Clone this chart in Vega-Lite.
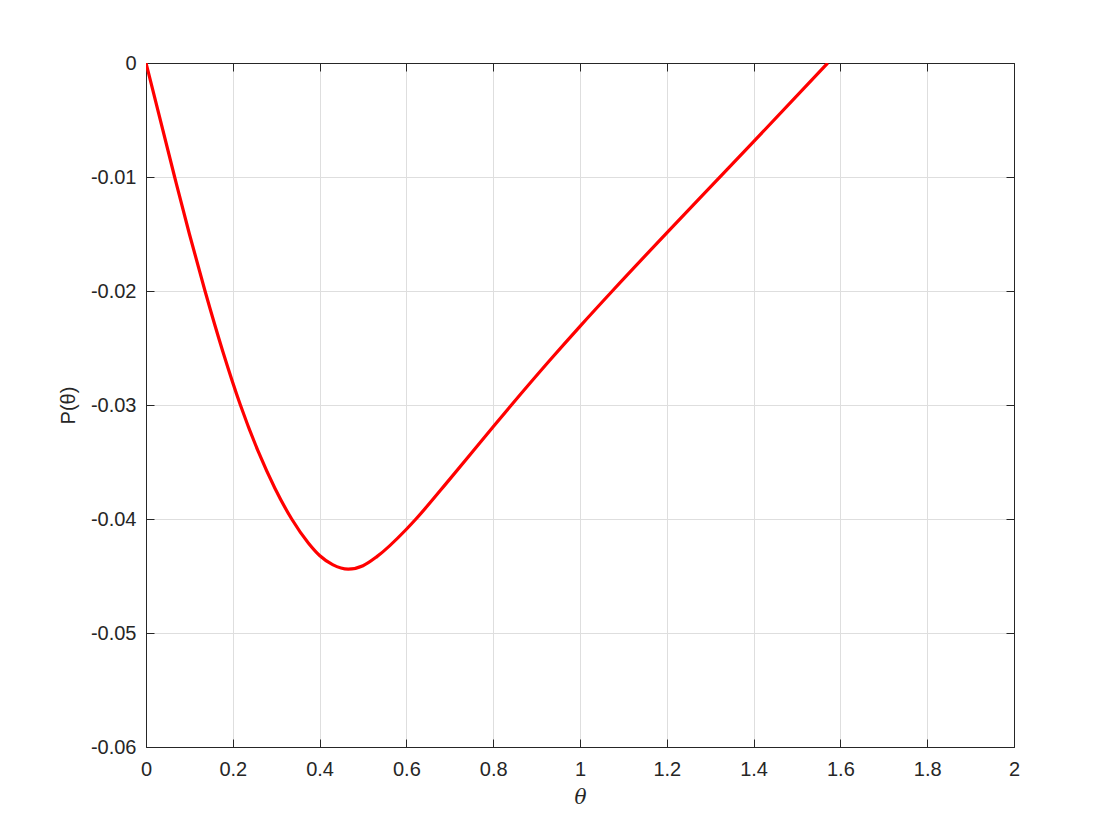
{
  "$schema": "https://vega.github.io/schema/vega-lite/v6.json",
  "width": 868,
  "height": 684,
  "autosize": {"type": "none"},
  "padding": {"left": 146, "top": 63, "right": 106, "bottom": 93},
  "background": "white",
  "config": {
    "view": {"stroke": "#262626", "strokeWidth": 1},
    "axis": {
      "domainColor": "#262626",
      "tickColor": "#262626",
      "labelColor": "#262626",
      "titleColor": "#262626",
      "labelFont": "Liberation Sans",
      "titleFont": "Liberation Sans",
      "labelFontSize": 20,
      "titleFontSize": 20,
      "titleFontWeight": "normal",
      "gridColor": "#dedede",
      "gridWidth": 1,
      "tickSize": -8,
      "tickWidth": 1
    }
  },
  "data": {
    "values": [
      {"theta": 0.0, "P": 0.0},
      {"theta": 0.066, "P": -0.01},
      {"theta": 0.1, "P": -0.015},
      {"theta": 0.136, "P": -0.02},
      {"theta": 0.177, "P": -0.0253},
      {"theta": 0.2175, "P": -0.03},
      {"theta": 0.2588, "P": -0.0341},
      {"theta": 0.297, "P": -0.0373},
      {"theta": 0.3357, "P": -0.04},
      {"theta": 0.374, "P": -0.0421},
      {"theta": 0.4, "P": -0.0432},
      {"theta": 0.43, "P": -0.0440},
      {"theta": 0.466, "P": -0.0444},
      {"theta": 0.5, "P": -0.0441},
      {"theta": 0.532, "P": -0.0433},
      {"theta": 0.6, "P": -0.0409},
      {"theta": 0.622, "P": -0.04},
      {"theta": 0.7, "P": -0.0365},
      {"theta": 0.8, "P": -0.0319},
      {"theta": 0.842, "P": -0.03},
      {"theta": 0.93, "P": -0.0261},
      {"theta": 1.0, "P": -0.0231},
      {"theta": 1.0745, "P": -0.02},
      {"theta": 1.2, "P": -0.0149},
      {"theta": 1.315, "P": -0.0103},
      {"theta": 1.4, "P": -0.0069},
      {"theta": 1.5708, "P": 0.0}
    ]
  },
  "layer": [
    {
      "mark": {"type": "line", "color": "#ff0000", "strokeWidth": 3.2, "interpolate": "monotone", "clip": true},
      "encoding": {
        "x": {
          "field": "theta", "type": "quantitative",
          "scale": {"domain": [0, 2], "nice": false, "zero": false},
          "axis": {
            "title": "θ", "titleFont": "DejaVu Serif", "titleFontStyle": "italic",
            "titlePadding": 8,
            "values": [0, 0.2, 0.4, 0.6, 0.8, 1, 1.2, 1.4, 1.6, 1.8, 2],
            "labelExpr": "format(datum.value, '~g')",
            "labelPadding": 20, "grid": true, "labelFlush": false
          }
        },
        "y": {
          "field": "P", "type": "quantitative",
          "scale": {"domain": [-0.06, 0], "nice": false, "zero": false},
          "axis": {
            "title": "P(θ)",
            "titlePadding": 12,
            "values": [-0.06, -0.05, -0.04, -0.03, -0.02, -0.01, 0],
            "labelExpr": "datum.value == 0 ? '0' : replace(format(datum.value, '.2f'), '\u2212', '-')",
            "labelPadding": 18, "grid": true, "labelFlush": false
          }
        }
      }
    },
    {
      "mark": {"type": "line", "opacity": 0},
      "encoding": {
        "x": {
          "field": "theta", "type": "quantitative",
          "scale": {"domain": [0, 2], "nice": false, "zero": false},
          "axis": {"orient": "top", "labels": false, "title": null, "grid": false,
            "values": [0, 0.2, 0.4, 0.6, 0.8, 1, 1.2, 1.4, 1.6, 1.8, 2]}
        },
        "y": {
          "field": "P", "type": "quantitative",
          "scale": {"domain": [-0.06, 0], "nice": false, "zero": false},
          "axis": {"orient": "right", "labels": false, "title": null, "grid": false,
            "values": [-0.06, -0.05, -0.04, -0.03, -0.02, -0.01, 0]}
        }
      }
    }
  ],
  "resolve": {"axis": {"x": "independent", "y": "independent"}}
}
